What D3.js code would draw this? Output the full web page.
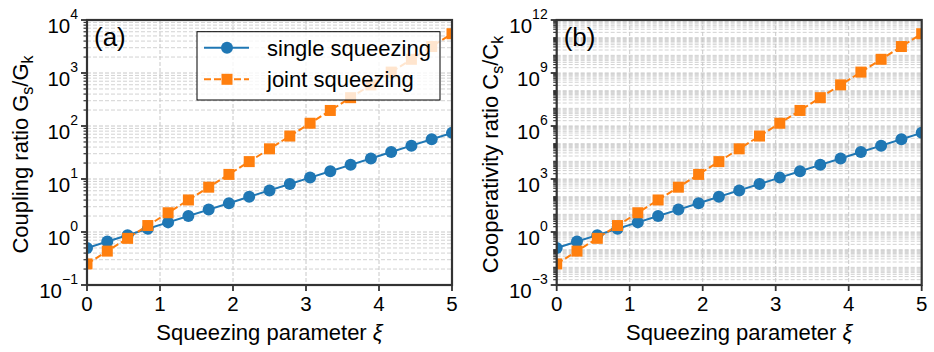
<!DOCTYPE html>
<html>
<head>
<meta charset="utf-8">
<script src="https://cdn.jsdelivr.net/npm/d3@7"></script>
<style>
  body { margin: 0; background: #fff; }
  text { font-family: "Liberation Sans", Arial, sans-serif; fill: #000; }
</style>
</head>
<body>
<div id="chart"></div>
<script>
'use strict';

// squeezing parameter values (19 samples between 0 and 5)
const xi = [0, 0.278, 0.556, 0.833, 1.111, 1.389, 1.667, 1.944, 2.222, 2.5,
            2.778, 3.056, 3.333, 3.611, 3.889, 4.167, 4.444, 4.722, 5];

// panel (a): coupling ratio
const couplingSingle = [0.5, 0.66, 0.871, 1.15, 1.519, 2.005, 2.647, 3.495, 4.614, 6.091,
                        8.041, 10.62, 14.02, 18.5, 24.42, 32.25, 42.57, 56.2, 74.2];
const couplingJoint = [0.25, 0.436, 0.759, 1.324, 2.307, 4.021, 7.008, 12.21, 21.29, 37.1,
                       64.67, 112.7, 196.4, 342.4, 596.8, 1040, 1813, 3160, 5507];

// panel (b): cooperativity ratio
const coopSingle = [0.125, 0.288, 0.662, 1.523, 3.504, 8.062, 18.55, 42.69, 98.22, 226,
                    520, 1197, 2753, 6335, 14577, 33542, 77178, 177582, 408627];
const coopJoint = [0.0156, 0.0827, 0.438, 2.319, 12.28, 65, 344.2, 1822, 9647, 51078,
                   270430, 1431800, 7580700, 40135000, 212500000, 1.125e9, 5.957e9, 3.154e10, 1.67e11];

const xTicks = [0, 1, 2, 3, 4, 5];
const aExponents = [-1, 0, 1, 2, 3, 4];
const bExponents = [-3, 0, 3, 6, 9, 12];
const seriesNames = ['single squeezing', 'joint squeezing'];

const width = 934;
const height = 352;
const blue = '#1f77b4';
const orange = '#ff7f0e';

const svg = d3.select('#chart')
  .append('svg')
  .attr('width', width)
  .attr('height', height);

function drawPanel(opts) {
  const left = opts.left, right = opts.left + 365;
  const top = 20, bottom = 285;
  const exps = opts.exponents;

  const x = d3.scaleLinear().domain([0, 5]).range([left, right]);
  const y = d3.scaleLog()
    .domain([Math.pow(10, exps[0]), Math.pow(10, exps[exps.length - 1])])
    .range([bottom, top]);

  const g = svg.append('g');
  const clipId = 'clip-' + opts.key;
  svg.append('clipPath').attr('id', clipId)
    .append('rect')
    .attr('x', left).attr('y', top)
    .attr('width', right - left).attr('height', bottom - top);

  // minor values: every k*10^n that is not a major tick
  const minor = [];
  for (let e = exps[0]; e < exps[exps.length - 1]; e++) {
    for (let k = 1; k <= 9; k++) {
      if (k === 1 && exps.indexOf(e) >= 0) continue;
      minor.push(k * Math.pow(10, e));
    }
  }
  const majors = exps.map(function(e) { return Math.pow(10, e); });

  // grid
  g.selectAll('.gminor').data(minor).enter().append('line')
    .attr('x1', left).attr('x2', right)
    .attr('y1', function(d) { return y(d); }).attr('y2', function(d) { return y(d); })
    .attr('stroke', '#d2d2d2').attr('stroke-width', 1)
    .attr('stroke-dasharray', '4,2');
  g.selectAll('.gmajor').data(majors).enter().append('line')
    .attr('x1', left).attr('x2', right)
    .attr('y1', function(d) { return y(d); }).attr('y2', function(d) { return y(d); })
    .attr('stroke', '#c8c8c8').attr('stroke-width', 1)
    .attr('stroke-dasharray', '4,2');
  g.selectAll('.gx').data(xTicks.slice(1, -1)).enter().append('line')
    .attr('x1', function(d) { return x(d); }).attr('x2', function(d) { return x(d); })
    .attr('y1', top).attr('y2', bottom)
    .attr('stroke', '#c8c8c8').attr('stroke-width', 1)
    .attr('stroke-dasharray', '4,2');

  // series
  const plot = g.append('g').attr('clip-path', 'url(#' + clipId + ')');
  const line = function(vals) {
    return d3.line()
      .x(function(d, i) { return x(xi[i]); })
      .y(function(d) { return y(d); })(vals);
  };

  plot.append('path').attr('d', line(opts.single))
    .attr('fill', 'none').attr('stroke', blue).attr('stroke-width', 2);
  plot.append('path').attr('d', line(opts.joint))
    .attr('fill', 'none').attr('stroke', orange).attr('stroke-width', 2)
    .attr('stroke-dasharray', '7,3');

  plot.selectAll('.dot').data(opts.single).enter().append('circle')
    .attr('cx', function(d, i) { return x(xi[i]); })
    .attr('cy', function(d) { return y(d); })
    .attr('r', 6).attr('fill', blue);
  plot.selectAll('.sq').data(opts.joint).enter().append('rect')
    .attr('x', function(d, i) { return x(xi[i]) - 5.5; })
    .attr('y', function(d) { return y(d) - 5.5; })
    .attr('width', 11).attr('height', 11).attr('fill', orange);

  // ticks
  g.selectAll('.tminor').data(minor).enter().append('line')
    .attr('x1', left - 3.5).attr('x2', left)
    .attr('y1', function(d) { return y(d); }).attr('y2', function(d) { return y(d); })
    .attr('stroke', '#333').attr('stroke-width', 1.2);
  g.selectAll('.tmajor').data(majors).enter().append('line')
    .attr('x1', left - 6).attr('x2', left)
    .attr('y1', function(d) { return y(d); }).attr('y2', function(d) { return y(d); })
    .attr('stroke', '#333').attr('stroke-width', 1.8);
  g.selectAll('.tx').data(xTicks).enter().append('line')
    .attr('x1', function(d) { return x(d); }).attr('x2', function(d) { return x(d); })
    .attr('y1', bottom).attr('y2', bottom + 6)
    .attr('stroke', '#333').attr('stroke-width', 1.8);

  // tick labels
  const yl = g.selectAll('.yl').data(exps).enter().append('text')
    .attr('x', left - 9)
    .attr('y', function(d) { return y(Math.pow(10, d)) + 13; })
    .attr('text-anchor', 'end')
    .style('font-size', '20.5px');
  yl.append('tspan').text('10');
  yl.append('tspan').attr('dy', -14.5).style('font-size', '14px')
    .text(function(d) { return d < 0 ? '\u2212' + (-d) : '' + d; });

  g.selectAll('.xl').data(xTicks).enter().append('text')
    .attr('x', function(d) { return x(d); })
    .attr('y', 311)
    .attr('text-anchor', 'middle')
    .style('font-size', '20.5px')
    .text(function(d) { return d; });

  // spines
  g.append('rect')
    .attr('x', left).attr('y', top)
    .attr('width', right - left).attr('height', bottom - top)
    .attr('fill', 'none').attr('stroke', '#333').attr('stroke-width', 2.2);

  // axis labels
  const xl = g.append('text')
    .attr('x', (left + right) / 2).attr('y', 340)
    .attr('text-anchor', 'middle')
    .style('font-size', '22px');
  xl.append('tspan').text('Squeezing parameter ');
  xl.append('tspan').style('font-style', 'italic').text('\u03be');

  const ylab = g.append('text')
    .attr('transform', 'translate(' + (left - 59) + ',' + ((top + bottom) / 2 + 2) + ') rotate(-90)')
    .attr('text-anchor', 'middle')
    .style('font-size', '22px');
  ylab.append('tspan').text(opts.ylabel + ' ' + opts.sym);
  ylab.append('tspan').attr('dy', 5).style('font-size', '16px').text('s');
  ylab.append('tspan').attr('dy', -5).text('/' + opts.sym);
  ylab.append('tspan').attr('dy', 5).style('font-size', '16px').text('k');

  g.append('text')
    .attr('x', left + 7).attr('y', 46)
    .style('font-size', '26px')
    .text(opts.tag);
}

drawPanel({ left: 87, exponents: aExponents, single: couplingSingle, joint: couplingJoint,
            ylabel: 'Coupling ratio', sym: 'G', tag: '(a)', key: 'a' });
drawPanel({ left: 556.7, exponents: bExponents, single: coopSingle, joint: coopJoint,
            ylabel: 'Cooperativity ratio', sym: 'C', tag: '(b)', key: 'b' });

// legend in panel (a)
const legend = svg.append('g');
legend.append('rect')
  .attr('x', 197).attr('y', 31.7).attr('width', 243).attr('height', 68.3)
  .attr('fill', '#fff').attr('fill-opacity', 0.8)
  .attr('stroke', '#000').attr('stroke-width', 1);

const rows = [
  { name: seriesNames[0], color: blue, dash: null, cy: 47.7 },
  { name: seriesNames[1], color: orange, dash: '7,3', cy: 79.3 }
];
rows.forEach(function(r, i) {
  legend.append('line')
    .attr('x1', 204).attr('x2', 249).attr('y1', r.cy).attr('y2', r.cy)
    .attr('stroke', r.color).attr('stroke-width', 2)
    .attr('stroke-dasharray', r.dash);
  if (i === 0) {
    legend.append('circle').attr('cx', 227).attr('cy', r.cy).attr('r', 6).attr('fill', r.color);
  } else {
    legend.append('rect').attr('x', 221.5).attr('y', r.cy - 5.5)
      .attr('width', 11).attr('height', 11).attr('fill', r.color);
  }
  legend.append('text')
    .attr('x', 267).attr('y', r.cy + 8)
    .style('font-size', '22px')
    .text(r.name);
});
</script>
</body>
</html>
